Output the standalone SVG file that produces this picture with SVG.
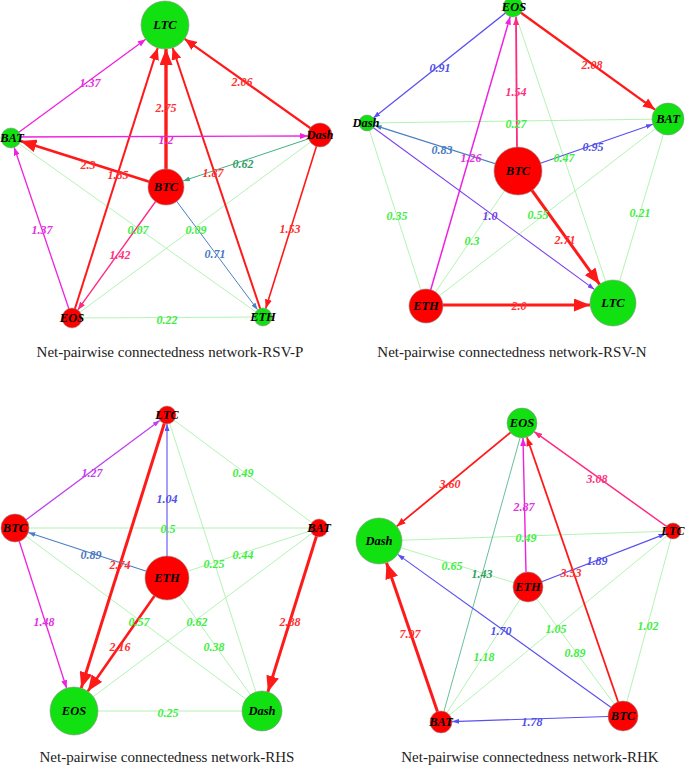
<svg xmlns="http://www.w3.org/2000/svg" width="685" height="769" viewBox="0 0 685 769">
<style>
.bg{fill:#ffffff}
.lg{stroke:#a0f0a0;stroke-width:0.8;fill:none}
.e{fill:none;stroke-linecap:butt}
.red{stroke:#ff1a1a}
.mag{stroke:#f020e0}
.pnk{stroke:#ff2a80}
.blu{stroke:#5a50f0}
.stl{stroke:#4a80c0}
.vio{stroke:#7a40f0}
.pur{stroke:#c040f0}
.grn{stroke:#40b080}
.nr{fill:#ff0000;stroke:#909090;stroke-width:0.6}
.ng{fill:#11e011;stroke:#909090;stroke-width:0.6}
.nl{font-family:"Liberation Serif",serif;font-style:italic;font-weight:bold;font-size:12.5px;fill:#000;text-anchor:middle;dominant-baseline:central}
.el{font-family:"Liberation Serif",serif;font-style:italic;font-weight:bold;font-size:12px;text-anchor:middle;dominant-baseline:central}
.tr{fill:#ff3030}.tm{fill:#e030e0}.tp{fill:#ff3080}.tb{fill:#5050e8}.ts{fill:#4a78c0}.tv{fill:#7040e8}.tu{fill:#c040f0}.tg{fill:#40ee40}.tt{fill:#30a060}
.cap{font-family:"Liberation Serif",serif;font-size:15px;fill:#222;text-anchor:middle}
</style>
<defs>
<marker id="rL" markerUnits="userSpaceOnUse" markerWidth="16" markerHeight="13" refX="16" refY="6.5" orient="auto"><path d="M0,0 L16,6.5 L0,13 z" fill="#ff1a1a"/></marker>
<marker id="rM" markerUnits="userSpaceOnUse" markerWidth="12" markerHeight="10" refX="12" refY="5" orient="auto"><path d="M0,0 L12,5 L0,10 z" fill="#ff1a1a"/></marker>
<marker id="rS" markerUnits="userSpaceOnUse" markerWidth="9" markerHeight="7" refX="9" refY="3.5" orient="auto"><path d="M0,0 L9,3.5 L0,7 z" fill="#ff1a1a"/></marker>
<marker id="aM" markerUnits="userSpaceOnUse" markerWidth="8" markerHeight="6" refX="8" refY="3" orient="auto"><path d="M0,0 L8,3 L0,6 z" fill="#f020e0"/></marker>
<marker id="aP" markerUnits="userSpaceOnUse" markerWidth="8" markerHeight="6" refX="8" refY="3" orient="auto"><path d="M0,0 L8,3 L0,6 z" fill="#ff2a80"/></marker>
<marker id="aB" markerUnits="userSpaceOnUse" markerWidth="7" markerHeight="5" refX="7" refY="2.5" orient="auto"><path d="M0,0 L7,2.5 L0,5 z" fill="#5a50f0"/></marker>
<marker id="aS" markerUnits="userSpaceOnUse" markerWidth="7" markerHeight="5" refX="7" refY="2.5" orient="auto"><path d="M0,0 L7,2.5 L0,5 z" fill="#4a80c0"/></marker>
<marker id="aV" markerUnits="userSpaceOnUse" markerWidth="7" markerHeight="5" refX="7" refY="2.5" orient="auto"><path d="M0,0 L7,2.5 L0,5 z" fill="#7a40f0"/></marker>
<marker id="aU" markerUnits="userSpaceOnUse" markerWidth="7" markerHeight="5" refX="7" refY="2.5" orient="auto"><path d="M0,0 L7,2.5 L0,5 z" fill="#c040f0"/></marker>
<marker id="aG" markerUnits="userSpaceOnUse" markerWidth="7" markerHeight="5" refX="7" refY="2.5" orient="auto"><path d="M0,0 L7,2.5 L0,5 z" fill="#40b080"/></marker>
</defs>
<rect class="bg" x="0" y="0" width="685" height="769"/>

<!-- ===== Panel 1: RSV-P ===== -->
<g id="p1-edges">
<line class="lg" x1="11" y1="138" x2="263" y2="317"/>
<line class="lg" x1="320" y1="135" x2="72" y2="318"/>
<line class="lg" x1="72" y1="318" x2="263" y2="317"/>
<line class="e mag" stroke-width="1.3" x1="11" y1="138" x2="145.7" y2="39.2" marker-end="url(#aM)"/>
<line class="e red" stroke-width="2.2" x1="320" y1="135" x2="184.6" y2="38.9" marker-end="url(#rM)"/>
<line class="e red" stroke-width="3.4" x1="166" y1="187" x2="166" y2="49" marker-end="url(#rL)"/>
<line class="e red" stroke-width="2" x1="72" y1="318" x2="157.7" y2="47.9" marker-end="url(#rM)"/>
<line class="e red" stroke-width="2" x1="263" y1="317" x2="172.6" y2="47.8" marker-end="url(#rM)"/>
<line class="e red" stroke-width="2.8" x1="166" y1="187" x2="20.5" y2="141" marker-end="url(#rL)"/>
<line class="e mag" stroke-width="1.3" x1="11" y1="137" x2="308" y2="136" marker-end="url(#aM)"/>
<line class="e grn" stroke-width="1" x1="320" y1="135" x2="183" y2="181" marker-end="url(#aG)"/>
<line class="e red" stroke-width="1.6" x1="320" y1="135" x2="265.7" y2="308.4" marker-end="url(#rS)"/>
<line class="e mag" stroke-width="1.3" x1="72" y1="318" x2="14.2" y2="147.5" marker-end="url(#aM)"/>
<line class="e pnk" stroke-width="1.4" x1="166" y1="187" x2="77.8" y2="309.9" marker-end="url(#aP)"/>
<line class="e stl" stroke-width="1" x1="166" y1="187" x2="257.6" y2="309.8" marker-end="url(#aS)"/>
<text class="el tm" x="90" y="83">1.37</text>
<text class="el tr" x="242" y="82">2.06</text>
<text class="el tr" x="166" y="108">2.75</text>
<text class="el tr" x="88" y="165">2.3</text>
<text class="el tm" x="166" y="140">1.2</text>
<text class="el tt" x="243" y="164">0.62</text>
<text class="el tr" x="118" y="175">1.85</text>
<text class="el tr" x="213" y="173">1.87</text>
<text class="el tm" x="42" y="230">1.37</text>
<text class="el tg" x="138" y="230">0.07</text>
<text class="el tg" x="196" y="230">0.09</text>
<text class="el tr" x="290" y="229">1.53</text>
<text class="el tp" x="120" y="255">1.42</text>
<text class="el ts" x="215" y="254">0.71</text>
<text class="el tg" x="167" y="320">0.22</text>
</g>
<g id="p1-LTC"><circle class="ng" cx="165" cy="25" r="24"/><text class="nl" x="165" y="25" font-size="14">LTC</text></g>
<g id="p1-BAT"><circle class="ng" cx="11" cy="138" r="10"/><text class="nl" x="12" y="138">BAT</text></g>
<g id="p1-Dash"><circle class="nr" cx="320" cy="135" r="12"/><text class="nl" x="320" y="135">Dash</text></g>
<g id="p1-BTC"><circle class="nr" cx="166" cy="187" r="18"/><text class="nl" x="166" y="187">BTC</text></g>
<g id="p1-EOS"><circle class="nr" cx="72" cy="318" r="10"/><text class="nl" x="72" y="318">EOS</text></g>
<g id="p1-ETH"><circle class="ng" cx="263" cy="317" r="9"/><text class="nl" x="263" y="317">ETH</text></g>
<text class="cap" x="170" y="357">Net-pairwise connectedness network-RSV-P</text>

<!-- ===== Panel 2: RSV-N ===== -->
<g id="p2-edges">
<line class="lg" x1="367" y1="123" x2="668" y2="119"/>
<line class="lg" x1="513" y1="7" x2="613" y2="303"/>
<line class="lg" x1="367" y1="123" x2="426" y2="306"/>
<line class="lg" x1="518" y1="171" x2="426" y2="306"/>
<line class="lg" x1="668" y1="119" x2="426" y2="306"/>
<line class="lg" x1="668" y1="119" x2="613" y2="303"/>
<line class="e blu" stroke-width="1.2" x1="513" y1="7" x2="373.3" y2="118" marker-end="url(#aB)"/>
<line class="e red" stroke-width="2.4" x1="513" y1="7" x2="655" y2="109.6" marker-end="url(#rM)"/>
<line class="e pnk" stroke-width="1.8" x1="517" y1="150" x2="516" y2="17" marker-end="url(#aP)"/>
<line class="e mag" stroke-width="1.5" x1="426" y1="306" x2="510.2" y2="16.6" marker-end="url(#aM)"/>
<line class="e stl" stroke-width="1.2" x1="518" y1="171" x2="374.6" y2="125.4" marker-end="url(#aS)"/>
<line class="e blu" stroke-width="1.2" x1="518" y1="171" x2="652.9" y2="124.2" marker-end="url(#aB)"/>
<line class="e vio" stroke-width="1.1" x1="367" y1="123" x2="594.4" y2="289.4" marker-end="url(#aV)"/>
<line class="e red" stroke-width="3" x1="518" y1="171" x2="599.6" y2="284.3" marker-end="url(#rL)"/>
<line class="e red" stroke-width="3" x1="426" y1="305" x2="590" y2="305" marker-end="url(#rL)"/>
<text class="el tb" x="440" y="68">0.91</text>
<text class="el tr" x="592" y="65">2.08</text>
<text class="el tp" x="516" y="92">1.54</text>
<text class="el tg" x="516" y="124">0.27</text>
<text class="el ts" x="442" y="150">0.83</text>
<text class="el tm" x="471" y="158">1.26</text>
<text class="el tg" x="564" y="158">0.47</text>
<text class="el tb" x="593" y="147">0.95</text>
<text class="el tg" x="397" y="216">0.35</text>
<text class="el tv" x="490" y="216">1.0</text>
<text class="el tg" x="538" y="215">0.55</text>
<text class="el tg" x="640" y="213">0.21</text>
<text class="el tg" x="472" y="241">0.3</text>
<text class="el tr" x="565" y="240">2.71</text>
<text class="el tr" x="519" y="306">2.0</text>
</g>
<g id="p2-EOS"><circle class="ng" cx="513" cy="7" r="10"/><text class="nl" x="514" y="7">EOS</text></g>
<g id="p2-BAT"><circle class="ng" cx="668" cy="119" r="16"/><text class="nl" x="668" y="119">BAT</text></g>
<g id="p2-Dash"><circle class="ng" cx="367" cy="123" r="8"/><text class="nl" x="366" y="123">Dash</text></g>
<g id="p2-BTC"><circle class="nr" cx="518" cy="171" r="24"/><text class="nl" x="518" y="171">BTC</text></g>
<g id="p2-ETH"><circle class="nr" cx="426" cy="306" r="17"/><text class="nl" x="426" y="306">ETH</text></g>
<g id="p2-LTC"><circle class="ng" cx="613" cy="303" r="23"/><text class="nl" x="613" y="303" font-size="14">LTC</text></g>
<text class="cap" x="512" y="357">Net-pairwise connectedness network-RSV-N</text>

<!-- ===== Panel 3: RHS ===== -->
<g id="p3-edges">
<line class="lg" x1="167" y1="415" x2="319" y2="528"/>
<line class="lg" x1="15" y1="528" x2="319" y2="528"/>
<line class="lg" x1="167" y1="415" x2="262" y2="711"/>
<line class="lg" x1="167" y1="578" x2="319" y2="528"/>
<line class="lg" x1="15" y1="528" x2="262" y2="711"/>
<line class="lg" x1="74" y1="711" x2="319" y2="528"/>
<line class="lg" x1="167" y1="578" x2="262" y2="711"/>
<line class="lg" x1="74" y1="711" x2="262" y2="711"/>
<line class="e pur" stroke-width="1.3" x1="15" y1="528" x2="159.8" y2="420.4" marker-end="url(#aU)"/>
<line class="e blu" stroke-width="1.1" x1="167" y1="578" x2="167" y2="424" marker-end="url(#aB)"/>
<line class="e red" stroke-width="3" x1="167" y1="415" x2="81.2" y2="688.1" marker-end="url(#rL)"/>
<line class="e stl" stroke-width="1.1" x1="167" y1="578" x2="28.3" y2="532.4" marker-end="url(#aS)"/>
<line class="e mag" stroke-width="1.3" x1="15" y1="528" x2="66.6" y2="688.2" marker-end="url(#aM)"/>
<line class="e red" stroke-width="2.6" x1="167" y1="578" x2="87.8" y2="691.3" marker-end="url(#rL)"/>
<line class="e red" stroke-width="3" x1="319" y1="528" x2="267.9" y2="691.9" marker-end="url(#rL)"/>
<text class="el tu" x="92" y="473">1.27</text>
<text class="el tg" x="243" y="473">0.49</text>
<text class="el tb" x="167" y="499">1.04</text>
<text class="el tg" x="168" y="529">0.5</text>
<text class="el ts" x="91" y="555">0.89</text>
<text class="el tr" x="120" y="565">2.74</text>
<text class="el tg" x="214" y="564">0.25</text>
<text class="el tg" x="243" y="555">0.44</text>
<text class="el tm" x="44" y="622">1.48</text>
<text class="el tg" x="139" y="622">0.57</text>
<text class="el tg" x="197" y="622">0.62</text>
<text class="el tr" x="290" y="622">2.88</text>
<text class="el tr" x="120" y="647">2.16</text>
<text class="el tg" x="214" y="647">0.38</text>
<text class="el tg" x="168" y="713">0.25</text>
</g>
<g id="p3-LTC"><circle class="nr" cx="167" cy="415" r="9"/><text class="nl" x="167" y="415">LTC</text></g>
<g id="p3-BTC"><circle class="nr" cx="15" cy="528" r="14"/><text class="nl" x="15" y="528">BTC</text></g>
<g id="p3-BAT"><circle class="nr" cx="319" cy="528" r="9"/><text class="nl" x="319" y="528">BAT</text></g>
<g id="p3-ETH"><circle class="nr" cx="167" cy="578" r="22"/><text class="nl" x="167" y="578">ETH</text></g>
<g id="p3-EOS"><circle class="ng" cx="74" cy="711" r="24"/><text class="nl" x="74" y="711">EOS</text></g>
<g id="p3-Dash"><circle class="ng" cx="262" cy="711" r="20"/><text class="nl" x="262" y="711">Dash</text></g>
<text class="cap" x="167" y="762">Net-pairwise connectedness network-RHS</text>

<!-- ===== Panel 4: RHK ===== -->
<g id="p4-edges">
<line class="lg" x1="379" y1="541" x2="673" y2="531"/>
<line class="lg" x1="379" y1="541" x2="528" y2="587"/>
<line class="lg" x1="528" y1="587" x2="441" y2="722"/>
<line class="lg" x1="441" y1="722" x2="673" y2="531"/>
<line class="lg" x1="528" y1="587" x2="623" y2="716"/>
<line class="lg" x1="673" y1="531" x2="623" y2="716"/>
<line class="e grn" stroke-width="0.8" x1="441" y1="722" x2="520" y2="438"/>
<line class="e red" stroke-width="1.8" x1="522" y1="423" x2="396.7" y2="526.4" marker-end="url(#rS)"/>
<line class="e pnk" stroke-width="1.5" x1="673" y1="531" x2="534.2" y2="431.7" marker-end="url(#aP)"/>
<line class="e mag" stroke-width="1.4" x1="526" y1="572" x2="523" y2="438" marker-end="url(#aM)"/>
<line class="e red" stroke-width="1.8" x1="623" y1="716" x2="526.9" y2="437.2" marker-end="url(#rS)"/>
<line class="e blu" stroke-width="1.2" x1="528" y1="587" x2="665.5" y2="533.9" marker-end="url(#aB)"/>
<line class="e blu" stroke-width="1.1" x1="623" y1="716" x2="397.7" y2="554.4" marker-end="url(#aB)"/>
<line class="e red" stroke-width="3" x1="441" y1="722" x2="386.5" y2="562.8" marker-end="url(#rL)"/>
<line class="e blu" stroke-width="1.2" x1="623" y1="716" x2="452" y2="721.6" marker-end="url(#aB)"/>
<text class="el tr" x="450" y="484">3.60</text>
<text class="el tp" x="597" y="479">3.08</text>
<text class="el tm" x="524" y="507">2.87</text>
<text class="el tg" x="526" y="538">0.49</text>
<text class="el tb" x="597" y="561">1.89</text>
<text class="el tr" x="571" y="573">3.53</text>
<text class="el tg" x="452" y="566">0.65</text>
<text class="el tt" x="482" y="574">1.43</text>
<text class="el tb" x="501" y="631">1.70</text>
<text class="el tr" x="410" y="634">7.97</text>
<text class="el tg" x="556" y="629">1.05</text>
<text class="el tg" x="648" y="626">1.02</text>
<text class="el tg" x="484" y="657">1.18</text>
<text class="el tg" x="575" y="653">0.89</text>
<text class="el tb" x="532" y="722">1.78</text>
</g>
<g id="p4-EOS"><circle class="ng" cx="522" cy="423" r="15"/><text class="nl" x="522" y="423">EOS</text></g>
<g id="p4-Dash"><circle class="ng" cx="379" cy="541" r="23"/><text class="nl" x="379" y="541">Dash</text></g>
<g id="p4-LTC"><circle class="nr" cx="673" cy="531" r="8"/><text class="nl" x="673" y="531">LTC</text></g>
<g id="p4-ETH"><circle class="nr" cx="528" cy="587" r="15"/><text class="nl" x="528" y="587">ETH</text></g>
<g id="p4-BAT"><circle class="nr" cx="441" cy="722" r="11"/><text class="nl" x="441" y="722">BAT</text></g>
<g id="p4-BTC"><circle class="nr" cx="623" cy="716" r="15"/><text class="nl" x="623" y="716">BTC</text></g>
<text class="cap" x="530" y="762">Net-pairwise connectedness network-RHK</text>
</svg>
